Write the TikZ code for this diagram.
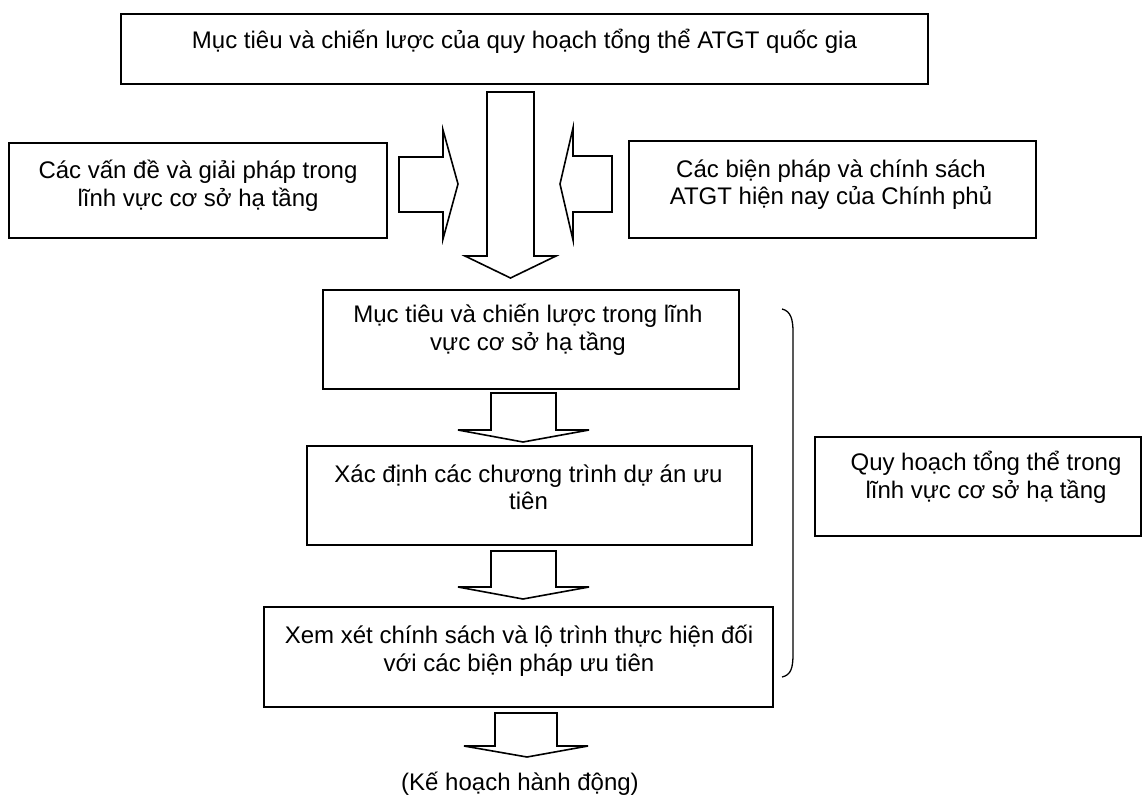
\documentclass[tikz,border=0pt]{standalone}
\usepackage{fontspec}
\setmainfont{Liberation Sans}
\begin{document}
\begin{tikzpicture}[x=1pt,y=-1pt,
  box/.style={draw=black,line width=1.6pt,fill=white},
  blockarrow/.style={draw=black,line width=1.6pt,fill=white,line join=miter},
  label/.style={anchor=base,inner sep=0pt,font=\fontsize{24}{28}\selectfont}]
\useasboundingbox (0,0) rectangle (1146,796);

% boxes
\draw[box] (121,14) rectangle (928,84);
\draw[box] (9,143) rectangle (387,238);
\draw[box] (629,141) rectangle (1036,238);
\draw[box] (323,290) rectangle (739,389);
\draw[box] (307,446) rectangle (752,545);
\draw[box] (264,607) rectangle (773,707);
\draw[box] (815,437) rectangle (1141,536);

% texts, one node per printed line
\node[label] (t1) at (524.5,48) {Mục tiêu và chiến lược của quy hoạch tổng thể ATGT quốc gia};
\node[label] (l1) at (198,178) {Các vấn đề và giải pháp trong};
\node[label] (l2) at (198,206) {lĩnh vực cơ sở hạ tầng};
\node[label] (r1) at (831,177) {Các biện pháp và chính sách};
\node[label] (r2) at (831,204) {ATGT hiện nay của Chính phủ};
\node[label] (a1) at (528,322) {Mục tiêu và chiến lược trong lĩnh};
\node[label] (a2) at (528,350) {vực cơ sở hạ tầng};
\node[label] (b1) at (528.5,482) {Xác định các chương trình dự án ưu};
\node[label] (b2) at (528.5,509) {tiên};
\node[label] (c1) at (519,643) {Xem xét chính sách và lộ trình thực hiện đối};
\node[label] (c2) at (519,671) {với các biện pháp ưu tiên};
\node[label] (q1) at (986,470) {Quy hoạch tổng thể trong};
\node[label] (q2) at (986,498) {lĩnh vực cơ sở hạ tầng};
\node[label] (plan) at (520,790) {(Kế hoạch hành động)};

% big downward block arrow
\draw[blockarrow] (487,92) -- (534,92) -- (534,256) -- (556,256) -- (510.5,278)
  -- (465,256) -- (487,256) -- cycle;
% arrow pointing right
\draw[blockarrow] (399,157) -- (443,157) -- (443,130) -- (458,184) -- (443,239)
  -- (443,212) -- (399,212) -- cycle;
% arrow pointing left
\draw[blockarrow] (612,156) -- (573,156) -- (573,128) -- (560,184) -- (573,240)
  -- (573,212) -- (612,212) -- cycle;
% small downward block arrows between the steps
\draw[blockarrow] (491,393) -- (556,393) -- (556,430) -- (589,430) -- (523,442)
  -- (458,430) -- (491,430) -- cycle;
\draw[blockarrow] (491,551) -- (556,551) -- (556,587) -- (589,587) -- (523,599)
  -- (458,587) -- (491,587) -- cycle;
\draw[blockarrow] (495,713) -- (557,713) -- (557,746) -- (588,746) -- (527,757)
  -- (464,746) -- (495,746) -- cycle;

% brace grouping the three steps
\draw[line width=1.3pt] (782,309) .. controls (791,311) and (793,320) .. (793,332)
  -- (793,654) .. controls (793,668) and (791,675) .. (782,677);
\end{tikzpicture}
\end{document}
